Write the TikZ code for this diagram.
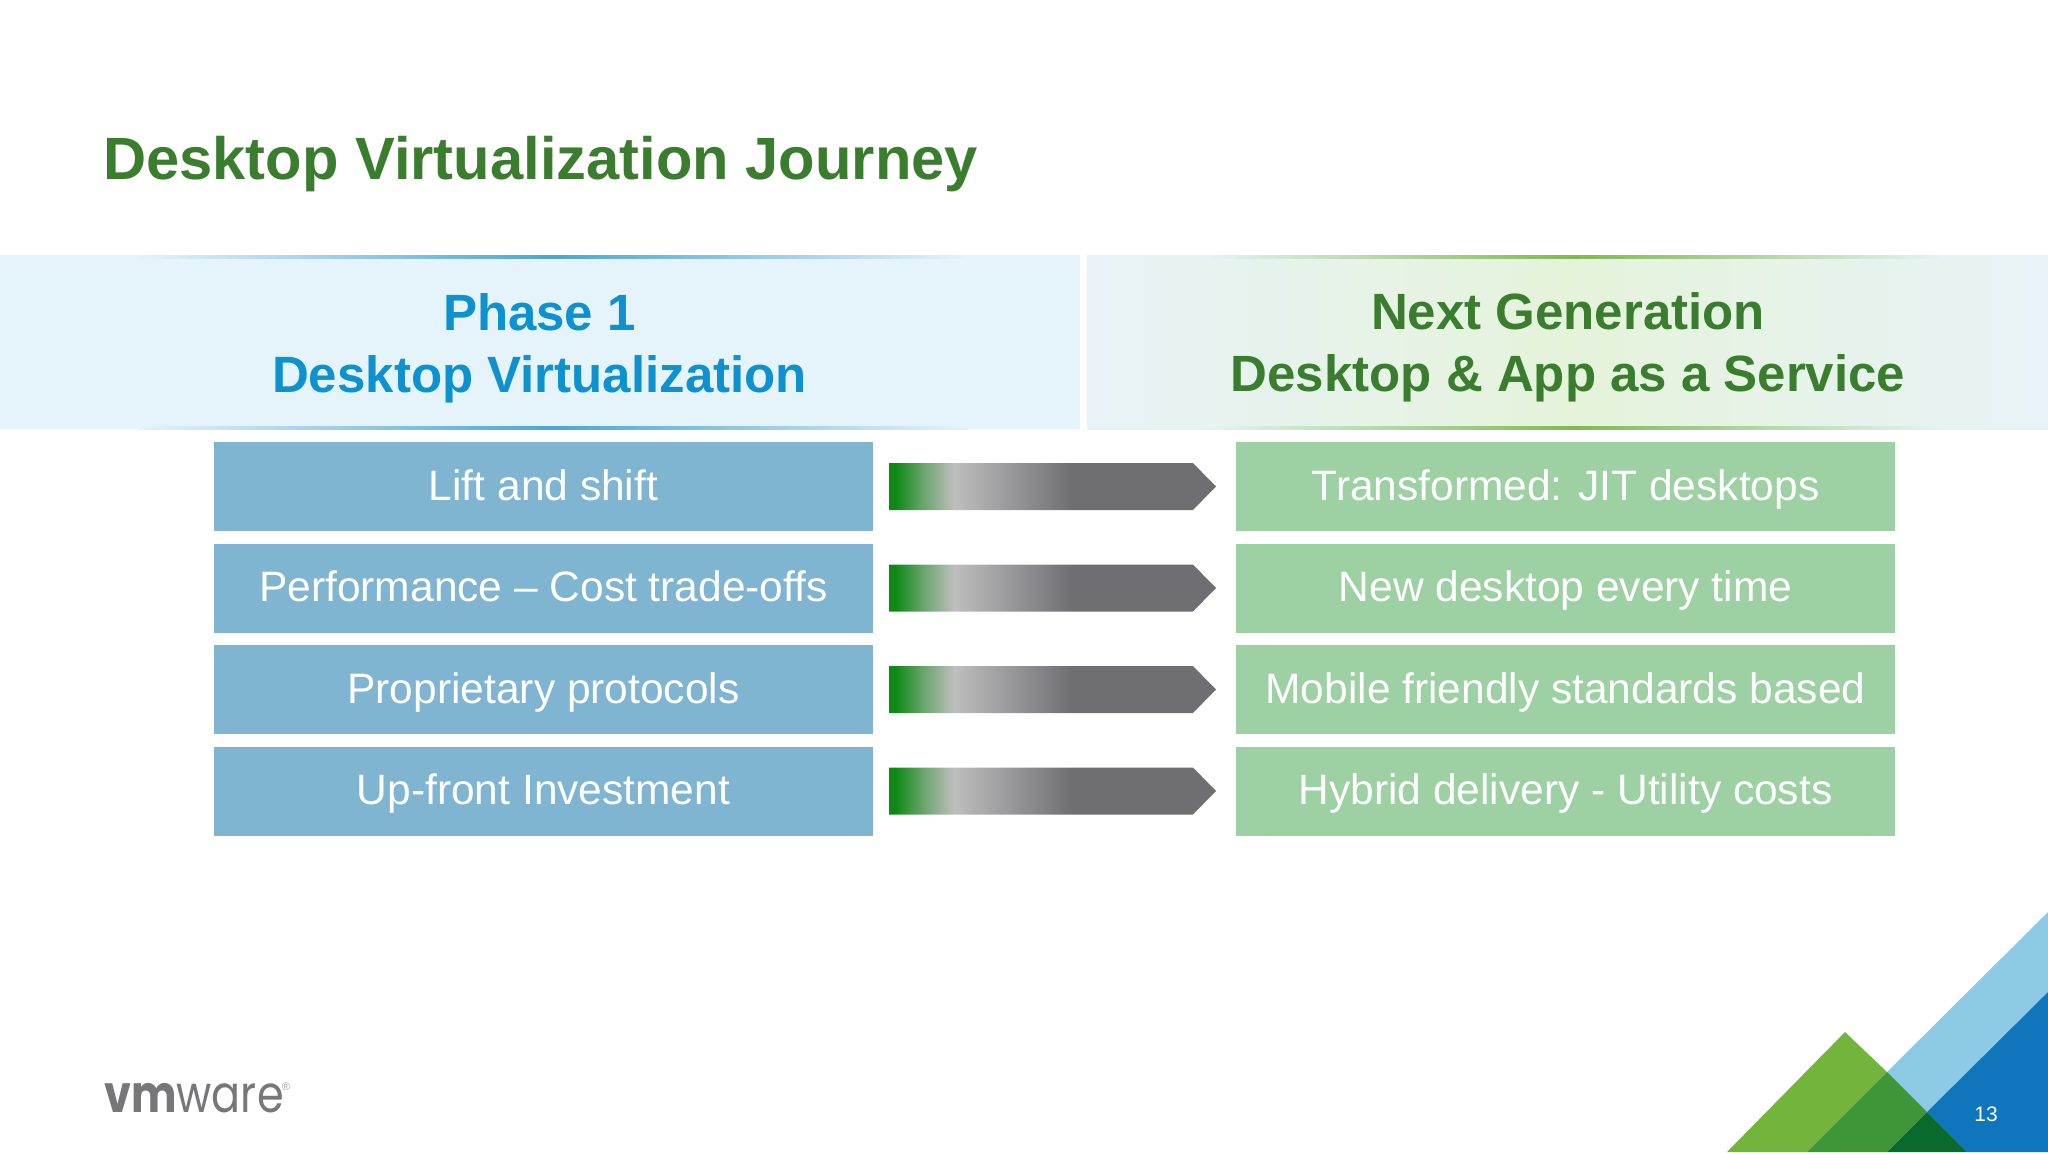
\documentclass[tikz,border=0pt]{standalone}
\usepackage{fontspec}
\usepackage{xcolor}
\usetikzlibrary{positioning,shapes.symbols}
\setmainfont{Liberation Sans}
\newfontfamily\logofont{Poppins}

\definecolor{titlegreen}{HTML}{3A7D2F}
\definecolor{phaseblue}{HTML}{0D92CF}
\definecolor{boxblue}{HTML}{7FB5D1}
\definecolor{boxgreen}{HTML}{9DD0A3}
\definecolor{bandblue}{HTML}{E5F3FA}
\definecolor{bandmint}{HTML}{E7F3F7}
\definecolor{bandgreen}{HTML}{E5F3DB}
\definecolor{lineblue}{HTML}{4BA6D2}
\definecolor{linegreen}{HTML}{7DBB4E}
\definecolor{arrowgreen}{HTML}{0E8A14}
\definecolor{arrowsilver}{HTML}{BEBEBE}
\definecolor{arrowgrey}{HTML}{6F6E72}
\definecolor{logogrey}{HTML}{77777A}
\definecolor{cornerlime}{HTML}{73B43C}
\definecolor{cornergreen}{HTML}{3F9638}
\definecolor{cornerdark}{HTML}{0A6A2E}
\definecolor{cornersky}{HTML}{8CCAE6}
\definecolor{cornerblue}{HTML}{0F76BE}

\pgfdeclarehorizontalshading{journeyshade}{100bp}{
	color(0bp)=(arrowgreen);
	color(26bp)=(arrowgreen);
	color(30bp)=(arrowgreen!50!arrowsilver);
	color(35bp)=(arrowsilver);
	color(53bp)=(arrowgrey);
	color(100bp)=(arrowgrey)
}

\tikzset{
	bluebox/.style={rectangle, fill=boxblue, text=white, inner sep=0, outer sep=0, minimum width=659, minimum height=89, text height=36, text depth=9, font=\fontsize{42.5}{50}\selectfont},
	greenbox/.style={bluebox, fill=boxgreen},
	greyarrow/.style={signal, signal to=east, signal pointer angle=91, shading=journeyshade, inner sep=0, outer sep=0, minimum width=327, minimum height=47},
	band/.style={rectangle, inner sep=0, outer sep=0, minimum height=174},
	bandtext/.style={inner sep=0, align=center, font=\fontsize{51}{62}\selectfont\bfseries},
	bandline/.style={rectangle, inner sep=0, outer sep=0, minimum height=3}
}

\begin{document}
\begin{tikzpicture}[x=1pt, y=-1pt]
	\useasboundingbox (0,0) rectangle (2048,1152);

	\node[anchor=base west, inner sep=0, text=titlegreen, font=\fontsize{59.7}{64}\selectfont\bfseries] (title) at (103,179) {Desktop Virtualization Journey};

	\node[band, fill=bandblue, minimum width=1080] (phase) at (540,342) {};
	\node[band, left color=bandmint, right color=bandmint, middle color=bandgreen, minimum width=961] (nextgen) at (1567.5,342) {};
	\node[bandline, left color=bandblue, right color=bandblue, middle color=lineblue, minimum width=830] (phasetop) at (553,256.5) {};
	\node[bandline, left color=bandblue, right color=bandblue, middle color=lineblue, minimum width=830] (phasebottom) at (553,427.5) {};
	\node[bandline, left color=bandmint, right color=bandmint, middle color=linegreen, minimum width=740] (nexttop) at (1574,256.5) {};
	\node[bandline, left color=bandmint, right color=bandmint, middle color=linegreen, minimum width=740] (nextbottom) at (1574,427.5) {};

	\node[bandtext, text=phaseblue] (phasetext) at (539.5,348) {Phase 1\\Desktop Virtualization};
	\node[bandtext, text=titlegreen] (nexttext) at (1568,347) {Next Generation\\Desktop \& App as a Service};

	\node[bluebox] (lift) at (543.5,486.5) {Lift and shift};
	\node[bluebox] (perf)[below=12.5pt of lift] {Performance -- Cost trade-offs};
	\node[bluebox] (proto)[below=12.5pt of perf] {Proprietary protocols};
	\node[bluebox] (invest)[below=12.5pt of proto] {Up-front Investment};

	\node[greyarrow] (a1)[right=16pt of lift] {};
	\node[greyarrow] (a2)[right=16pt of perf] {};
	\node[greyarrow] (a3)[right=16pt of proto] {};
	\node[greyarrow] (a4)[right=16pt of invest] {};

	\node[greenbox] (jit)[right=20pt of a1] {Transformed: JIT desktops};
	\node[greenbox] (fresh)[right=20pt of a2] {New desktop every time};
	\node[greenbox] (mobile)[right=20pt of a3] {Mobile friendly standards based};
	\node[greenbox] (hybrid)[right=20pt of a4] {Hybrid delivery - Utility costs};

	% corner
	\fill[cornersky] (1887,1072) -- (2048,912) -- (2048,992) -- (1927,1112) -- cycle;
	\fill[cornerblue] (1927,1112) -- (2048,992) -- (2048,1152) -- (1967,1152) -- cycle;
	\fill[cornerlime] (1727,1152) -- (1845,1032) -- (1887,1072) -- (1807,1152) -- cycle;
	\fill[cornergreen] (1807,1152) -- (1887,1072) -- (1927,1112) -- (1887,1152) -- cycle;
	\fill[cornerdark] (1887,1152) -- (1927,1112) -- (1967,1152) -- cycle;

	\node[text=white, inner sep=0, font=\fontsize{21}{24}\selectfont] (page) at (1986,1114) {13};

	\node[anchor=base west, inner sep=0, text=logogrey, transform shape, yscale=1.2, font=\fontsize{43}{48}\selectfont\logofont] (logo) at (104,1112) {\textbf{vm}ware};
	\node[inner sep=0, text=logogrey!70, font=\fontsize{11}{12}\selectfont] (reg) at (286,1087) {®};
\end{tikzpicture}
\end{document}
